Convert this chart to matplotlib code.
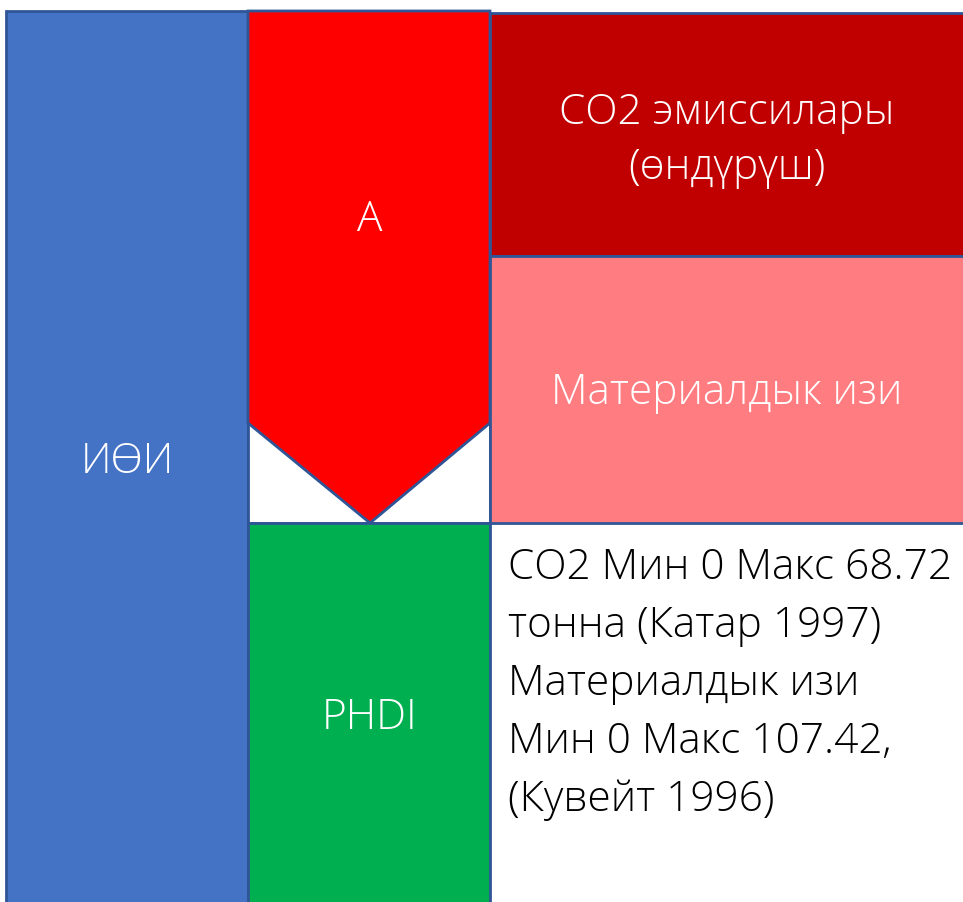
import matplotlib
matplotlib.use("Agg")
import matplotlib.pyplot as plt
from matplotlib.patches import Rectangle, Polygon

# labels
block_labels = ["ИӨИ", "A", "СО2 эмиссилары\n(өндүрүш)", "Материалдык изи", "PHDI"]
block_colors = ["#4472C4", "#FF0000", "#C00000", "#FF7C80", "#00B050"]
note_lines = [
    "СО2 Мин 0 Макс 68.72",
    "тонна (Катар 1997)",
    "Материалдык изи",
    "Мин 0 Макс 107.42,",
    "(Кувейт 1996)",
]

edge = "#2F5597"
W, H = 963, 902

fig = plt.figure(figsize=(W / 100, H / 100), dpi=100)
ax = fig.add_axes([0, 0, 1, 1])
ax.set_xlim(0, W)
ax.set_ylim(H, 0)
ax.axis("off")

font = dict(family=["Open Sans", "DejaVu Sans"], fontweight="light")
fs = 30.5

# left column
ax.add_patch(Rectangle((6, 11), 242, 900, fc=block_colors[0], ec=edge, lw=2))
# box behind arrow tip
ax.add_patch(Rectangle((248, 423), 242, 100, fc="white", ec=edge, lw=2))
# arrow (pentagon)
ax.add_patch(Polygon([(248, 11), (490, 11), (490, 423), (370, 523), (248, 423)],
                     closed=True, fc=block_colors[1], ec=edge, lw=2))
# green bottom
ax.add_patch(Rectangle((248, 523), 242, 400, fc=block_colors[4], ec=edge, lw=2))
# right blocks
ax.add_patch(Rectangle((490, 13), 480, 243, fc=block_colors[2], ec=edge, lw=2))
ax.add_patch(Rectangle((490, 256), 480, 267, fc=block_colors[3], ec=edge, lw=2))

ax.text(127, 462, block_labels[0], color="white", fontsize=fs, ha="center", va="center", **font)
ax.text(370, 220, block_labels[1], color="white", fontsize=fs, ha="center", va="center", **font)
ax.text(727, 140, block_labels[2], color="white", fontsize=fs, ha="center", va="center",
        linespacing=1.4, **font)
ax.text(727, 393, block_labels[3], color="white", fontsize=fs, ha="center", va="center", **font)
ax.text(370, 718, block_labels[4], color="white", fontsize=fs, ha="center", va="center", **font)

for i, line in enumerate(note_lines):
    ax.text(508, 568 + i * 58, line, color="black", fontsize=fs, ha="left", va="center", **font)

fig.savefig("out.png", dpi=100)
